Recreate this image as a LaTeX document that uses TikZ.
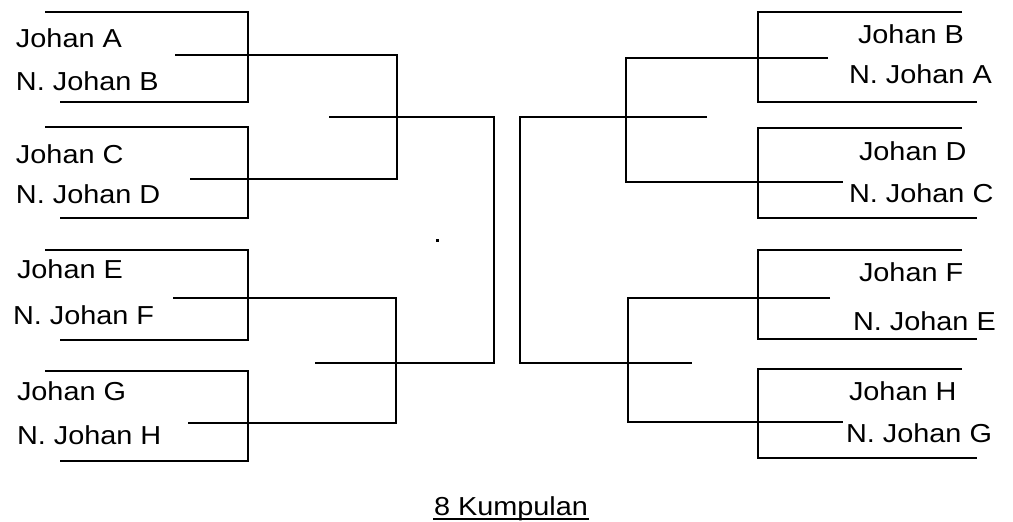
\documentclass[tikz,border=0pt]{standalone}
\usepackage{fontspec}
\setmainfont[FakeStretch=1.11]{Liberation Sans}
\usetikzlibrary{calc}
\begin{document}
\begin{tikzpicture}[x=0.75pt,y=-0.75pt,line width=1.5pt,line join=miter,
  lbl/.style={inner sep=0pt,anchor=base west,font=\fontsize{19.5pt}{22pt}\selectfont},
  bracket/.style={draw=black,line width=1.5pt}]
\useasboundingbox (0,0) rectangle (1013,521);
% left, first round
\draw[bracket] (45,12) -- (248,12) -- (248,102) -- (60,102);
\draw[bracket] (45,127) -- (248,127) -- (248,218) -- (60,218);
\draw[bracket] (45,250) -- (248,250) -- (248,340) -- (60,340);
\draw[bracket] (45,371) -- (248,371) -- (248,461) -- (60,461);
% left, second round
\draw[bracket] (175,55) -- (397,55) -- (397,179) -- (190,179);
\draw[bracket] (173,298) -- (396,298) -- (396,423) -- (188,423);
% left, final
\draw[bracket] (329,117) -- (494,117) -- (494,363) -- (315,363);
% right, first round
\draw[bracket] (962,12) -- (758,12) -- (758,102) -- (977,102);
\draw[bracket] (962,128) -- (758,128) -- (758,218) -- (977,218);
\draw[bracket] (962,250) -- (758,250) -- (758,339) -- (977,339);
\draw[bracket] (962,369) -- (758,369) -- (758,458) -- (977,458);
% right, second round
\draw[bracket] (828,58) -- (626,58) -- (626,182) -- (843,182);
\draw[bracket] (830,298) -- (628,298) -- (628,422) -- (843,422);
% right, final
\draw[bracket] (707,117) -- (520,117) -- (520,363) -- (692,363);
% stray dot
\fill (436,239) rectangle (438.5,242);
% left labels
\node[lbl] (ja) at (15,47) {Johan A};
\node[lbl] (njb) at (15,90) {N. Johan B};
\node[lbl] (jc) at (15,163) {Johan C};
\node[lbl] (njd) at (15,203) {N. Johan D};
\node[lbl] (je) at (16,278) {Johan E};
\node[lbl] (njf) at (12,324) {N. Johan F};
\node[lbl] (jg) at (16,400) {Johan G};
\node[lbl] (njh) at (16,444) {N. Johan H};
% right labels
\node[lbl] (jb) at (857,43) {Johan B};
\node[lbl] (nja) at (848,83) {N. Johan A};
\node[lbl] (jd) at (858,160) {Johan D};
\node[lbl] (njc) at (848,202) {N. Johan C};
\node[lbl] (jf) at (858,281) {Johan F};
\node[lbl] (nje) at (852,330) {N. Johan E};
\node[lbl] (jh) at (848,400) {Johan H};
\node[lbl] (njg) at (845,442) {N. Johan G};
% caption
\node[lbl] (cap) at (433,515) {8 Kumpulan};
\draw[line width=1.2pt] ($(cap.base west)+(0,4)$) -- ($(cap.base east)+(0,4)$);
\end{tikzpicture}
\end{document}
